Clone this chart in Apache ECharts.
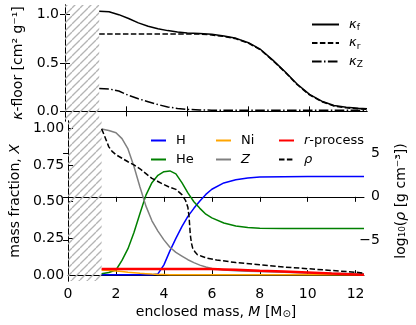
<!DOCTYPE html>
<html>
<head>
<meta charset="utf-8">
<script src="https://cdn.jsdelivr.net/npm/echarts@6/dist/echarts.min.js"></script>
<style>
  html, body { margin: 0; padding: 0; background: #fff; }
  #chart { width: 416px; height: 325px; }
</style>
</head>
<body>
<div id="chart"></div>
<script>
// opacity floor panel
const massK = [1.4, 1.8, 2.2, 2.6, 3.0, 3.4, 3.8, 4.2, 4.6, 5.0, 5.5, 6.0, 6.5, 7.0, 7.5, 8.0, 8.5, 9.0, 9.5, 10.0, 10.5, 11.0, 11.5, 12.0, 12.35];
const kappaF = [1.035, 1.03, 1.0, 0.96, 0.915, 0.88, 0.855, 0.835, 0.82, 0.81, 0.805, 0.797, 0.78, 0.755, 0.71, 0.64, 0.53, 0.41, 0.28, 0.175, 0.105, 0.06, 0.042, 0.032, 0.028];
const kappaR = [0.8, 0.8, 0.8, 0.8, 0.8, 0.8, 0.8, 0.8, 0.8, 0.8, 0.8, 0.79, 0.775, 0.75, 0.705, 0.635, 0.525, 0.405, 0.275, 0.17, 0.1, 0.055, 0.036, 0.026, 0.022];
const kappaZ = [0.235, 0.232, 0.21, 0.165, 0.13, 0.1, 0.07, 0.045, 0.03, 0.02, 0.014, 0.012, 0.011, 0.011, 0.01, 0.01, 0.01, 0.01, 0.01, 0.01, 0.01, 0.01, 0.01, 0.01, 0.01];

// composition panel
const massX = [1.4, 1.7, 2.0, 2.25, 2.5, 2.75, 3.0, 3.25, 3.5, 3.75, 4.0, 4.25, 4.5, 4.75, 5.0, 5.25, 5.5, 5.75, 6.0, 6.5, 7.0, 7.5, 8.0, 9.0, 10.0, 11.0, 12.0, 12.35];
const fracH = [0.003, 0.003, 0.003, 0.003, 0.003, 0.003, 0.003, 0.003, 0.003, 0.008, 0.07, 0.165, 0.25, 0.33, 0.40, 0.455, 0.505, 0.55, 0.585, 0.628, 0.65, 0.662, 0.668, 0.671, 0.672, 0.672, 0.672, 0.672];
const fracHe = [0.01, 0.018, 0.035, 0.10, 0.18, 0.29, 0.42, 0.545, 0.63, 0.68, 0.705, 0.71, 0.69, 0.63, 0.56, 0.50, 0.455, 0.415, 0.39, 0.355, 0.335, 0.325, 0.32, 0.318, 0.317, 0.317, 0.317, 0.317];
const fracNi = [0.035, 0.032, 0.028, 0.024, 0.02, 0.017, 0.013, 0.01, 0.007, 0.005, 0.004, 0.003, 0.003, 0.003, 0.003, 0.003, 0.003, 0.003, 0.003, 0.003, 0.003, 0.003, 0.003, 0.003, 0.003, 0.003, 0.003, 0.003];
const fracZ = [0.995, 0.985, 0.97, 0.93, 0.86, 0.74, 0.60, 0.47, 0.37, 0.30, 0.24, 0.19, 0.155, 0.13, 0.105, 0.085, 0.068, 0.055, 0.045, 0.035, 0.03, 0.027, 0.025, 0.02, 0.015, 0.012, 0.01, 0.01];
const fracR = [0.042, 0.042, 0.042, 0.042, 0.042, 0.042, 0.042, 0.042, 0.042, 0.042, 0.042, 0.042, 0.042, 0.042, 0.042, 0.042, 0.042, 0.042, 0.041, 0.039, 0.036, 0.033, 0.03, 0.025, 0.018, 0.011, 0.005, 0.003];

const massRho = [1.4, 1.5, 1.6, 1.7, 1.85, 2.0, 2.25, 2.5, 2.75, 3.0, 3.25, 3.5, 3.75, 4.0, 4.25, 4.5, 4.75, 4.9, 5.0, 5.05, 5.1, 5.15, 5.2, 5.3, 5.4, 5.6, 5.8, 6.2, 7.0, 8.0, 9.0, 10.0, 11.0, 12.0, 12.35];
const logRho = [7.75, 7.1, 6.4, 5.7, 5.15, 4.8, 4.4, 4.0, 3.65, 3.2, 2.65, 2.1, 1.75, 1.4, 1.08, 0.85, 0.25, -0.4, -1.2, -2.3, -4.3, -5.3, -5.85, -6.3, -6.6, -6.8, -7.0, -7.2, -7.5, -7.75, -8.0, -8.2, -8.4, -8.6, -8.7];

const excisedMass = 1.4;
const xMax = 12.35;
const xTicksTop = [2.5, 5, 7.5, 10];
const xTicks = [0, 2, 4, 6, 8, 10, 12];
const kappaTicks = [0, 0.5, 1];
const fracTicks = [0, 0.25, 0.5, 0.75, 1];
const rhoTicks = [-5, 0, 5];

const font = 'DejaVu Sans';

const pairs = ( xs, ys ) => xs.map( ( x, i ) => [ x, ys[ i ] ] );

// hatch tile for the excised region
const hatch = document.createElement( 'canvas' );
hatch.width = 8;
hatch.height = 8;
const hctx = hatch.getContext( '2d' );
hctx.strokeStyle = '#b4b4b4';
hctx.lineWidth = 1.3;
for ( const k of [ -8, 0, 8 ] ) {
	hctx.beginPath();
	hctx.moveTo( k, 8 );
	hctx.lineTo( k + 8, 0 );
	hctx.stroke();
}

const excised = {
	silent: true,
	label: { show: false },
	itemStyle: { color: { image: hatch, repeat: 'repeat' }, borderWidth: 0 },
	data: [ [ { xAxis: 0 }, { xAxis: excisedMass } ] ]
};

const axisLine = { show: true, lineStyle: { color: '#000', width: 1 } };
const tick = ( values ) => ( { show: true, inside: true, length: 5, customValues: values, lineStyle: { color: '#000', width: 1 } } );
const noLabel = { show: false };

const rich = {
	i: { fontFamily: font, fontSize: 14, fontStyle: 'italic', color: '#000' },
	n: { fontFamily: font, fontSize: 14, color: '#000' },
	s: { fontFamily: font, fontSize: 10, color: '#000', verticalAlign: 'bottom', lineHeight: 10 }
};

const legendRich = {
	i: { fontFamily: font, fontSize: 13, fontStyle: 'italic', color: '#000', lineHeight: 16 },
	n: { fontFamily: font, fontSize: 13, color: '#000', lineHeight: 16 },
	s: { fontFamily: font, fontSize: 9, color: '#000', verticalAlign: 'bottom', lineHeight: 9 }
};

const legendNames = {
	kf: '{i|κ}{s|f}',
	kr: '{i|κ}{s|r}',
	kZ: '{i|κ}{s|Z}',
	H: '{n|H}',
	He: '{n|He}',
	Ni: '{n|Ni}',
	Z: '{i|Z}',
	rp: '{i|r}{n|-process}',
	rho: '{i|ρ}'
};

const legendBase = ( data, left, top, width ) => ( {
	data: data,
	orient: 'vertical',
	left: left,
	top: top,
	itemWidth: width,
	itemHeight: 13,
	itemGap: 6,
	selectedMode: false,
	itemStyle: { opacity: 0 },
	formatter: ( name ) => legendNames[ name ],
	textStyle: { fontFamily: font, fontSize: 13, color: '#000', padding: [ 0, 0, 0, 5 ], rich: legendRich }
} );

const line = ( name, data, color, width, type, xi, yi ) => ( {
	name: name,
	type: 'line',
	data: data,
	xAxisIndex: xi,
	yAxisIndex: yi,
	symbol: 'none',
	showSymbol: false,
	lineStyle: { color: color, width: width, type: type },
	itemStyle: { color: color },
	emphasis: { disabled: true }
} );

const chart = echarts.init( document.getElementById( 'chart' ), null, { renderer: 'canvas' } );

chart.setOption( {
	animation: false,
	textStyle: { fontFamily: font },
	grid: [
		{ left: 65, right: 49, top: 5, height: 116 },
		{ left: 65, right: 49, top: 121, height: 160 }
	],
	xAxis: [
		{ gridIndex: 0, type: 'value', min: 0, max: xMax, position: 'bottom', axisLine: axisLine, axisTick: tick( xTicksTop ), axisLabel: noLabel, splitLine: { show: false } },
		{ gridIndex: 0, type: 'value', min: 0, max: xMax, position: 'top', axisLine: axisLine, axisTick: tick( xTicksTop ), axisLabel: noLabel, splitLine: { show: false } },
		{
			gridIndex: 1, type: 'value', min: 0, max: xMax, position: 'bottom',
			axisLine: axisLine, axisTick: tick( xTicks ),
			axisLabel: { show: true, customValues: xTicks, margin: 6, fontFamily: font, fontSize: 14, color: '#000' },
			splitLine: { show: false },
			name: '{n|enclosed mass, }{i|M}{n| [M}{s|⊙}{n|]}',
			nameLocation: 'middle',
			nameGap: 24,
			nameTextStyle: { fontFamily: font, fontSize: 14, color: '#000', rich: rich }
		},
		{ gridIndex: 1, type: 'value', min: 0, max: xMax, position: 'top', axisLine: axisLine, axisTick: tick( xTicks.slice( 1 ) ), axisLabel: noLabel, splitLine: { show: false } }
	],
	yAxis: [
		{
			gridIndex: 0, type: 'value', min: -0.1, max: 1.1, position: 'left',
			axisLine: axisLine, axisTick: tick( kappaTicks ),
			axisLabel: { show: true, customValues: kappaTicks, margin: 6, fontFamily: font, fontSize: 14, color: '#000', formatter: ( v ) => v.toFixed( 1 ) },
			splitLine: { show: false },
			name: '{i|κ}{n|-floor [cm² g⁻¹]}',
			nameLocation: 'middle',
			nameRotate: 90,
			nameGap: 40,
			nameTextStyle: { fontFamily: font, fontSize: 14, color: '#000', rich: rich }
		},
		{ gridIndex: 0, type: 'value', min: -0.1, max: 1.1, position: 'right', axisLine: axisLine, axisTick: tick( kappaTicks ), axisLabel: noLabel, splitLine: { show: false } },
		{
			gridIndex: 1, type: 'value', min: -0.04, max: 1.05, position: 'left',
			axisLine: axisLine, axisTick: tick( fracTicks ),
			axisLabel: { show: true, customValues: fracTicks, margin: 4, fontFamily: font, fontSize: 14, color: '#000', formatter: ( v ) => v.toFixed( 2 ) },
			splitLine: { show: false },
			name: '{n|mass fraction, }{i|X}',
			nameLocation: 'middle',
			nameRotate: 90,
			nameGap: 40,
			nameTextStyle: { fontFamily: font, fontSize: 14, color: '#000', rich: rich }
		},
		{
			gridIndex: 1, type: 'value', min: -9.6, max: 8.65, position: 'right',
			axisLine: axisLine, axisTick: tick( rhoTicks ),
			axisLabel: { show: true, customValues: rhoTicks, margin: 16, align: 'right', fontFamily: font, fontSize: 14, color: '#000', formatter: ( v ) => ( v < 0 ? '−' + Math.abs( v ) : String( v ) ) },
			splitLine: { show: false },
			name: '{n|log₁₀(}{i|ρ}{n| [g cm⁻³])}',
			nameLocation: 'middle',
			nameRotate: 90,
			nameGap: 30,
			nameTextStyle: { fontFamily: font, fontSize: 14, color: '#000', rich: rich }
		}
	],
	legend: [
		Object.assign( legendBase( [ 'kf', 'kr', 'kZ' ], 306, 13, 27 ), { itemHeight: 16, itemGap: 4 } ),
		legendBase( [ 'H', 'He' ], 145, 129, 15 ),
		legendBase( [ 'Ni', 'Z' ], 210, 129, 15 ),
		legendBase( [ 'rp', 'rho' ], 273, 129, 15 )
	],
	series: [
		Object.assign( line( 'kf', pairs( massK, kappaF ), '#000', 1.5, 'solid', 0, 0 ), { markArea: excised } ),
		line( 'kr', pairs( massK, kappaR ), '#000', 1.5, [ 5.5, 2.4 ], 0, 0 ),
		line( 'kZ', pairs( massK, kappaZ ), '#000', 1.5, [ 9.6, 2.4, 1.5, 2.4 ], 0, 0 ),
		Object.assign( line( 'H', pairs( massX, fracH ), '#0000ff', 1.5, 'solid', 2, 2 ), { markArea: excised } ),
		line( 'He', pairs( massX, fracHe ), '#008000', 1.5, 'solid', 2, 2 ),
		line( 'Ni', pairs( massX, fracNi ), '#ffa500', 1.5, 'solid', 2, 2 ),
		line( 'Z', pairs( massX, fracZ ), '#808080', 1.5, 'solid', 2, 2 ),
		line( 'rp', pairs( massX, fracR ), '#ff0000', 2.5, 'solid', 2, 2 ),
		line( 'rho', pairs( massRho, logRho ), '#000', 1.5, [ 5.5, 2.4 ], 2, 3 )
	]
} );
</script>
</body>
</html>
